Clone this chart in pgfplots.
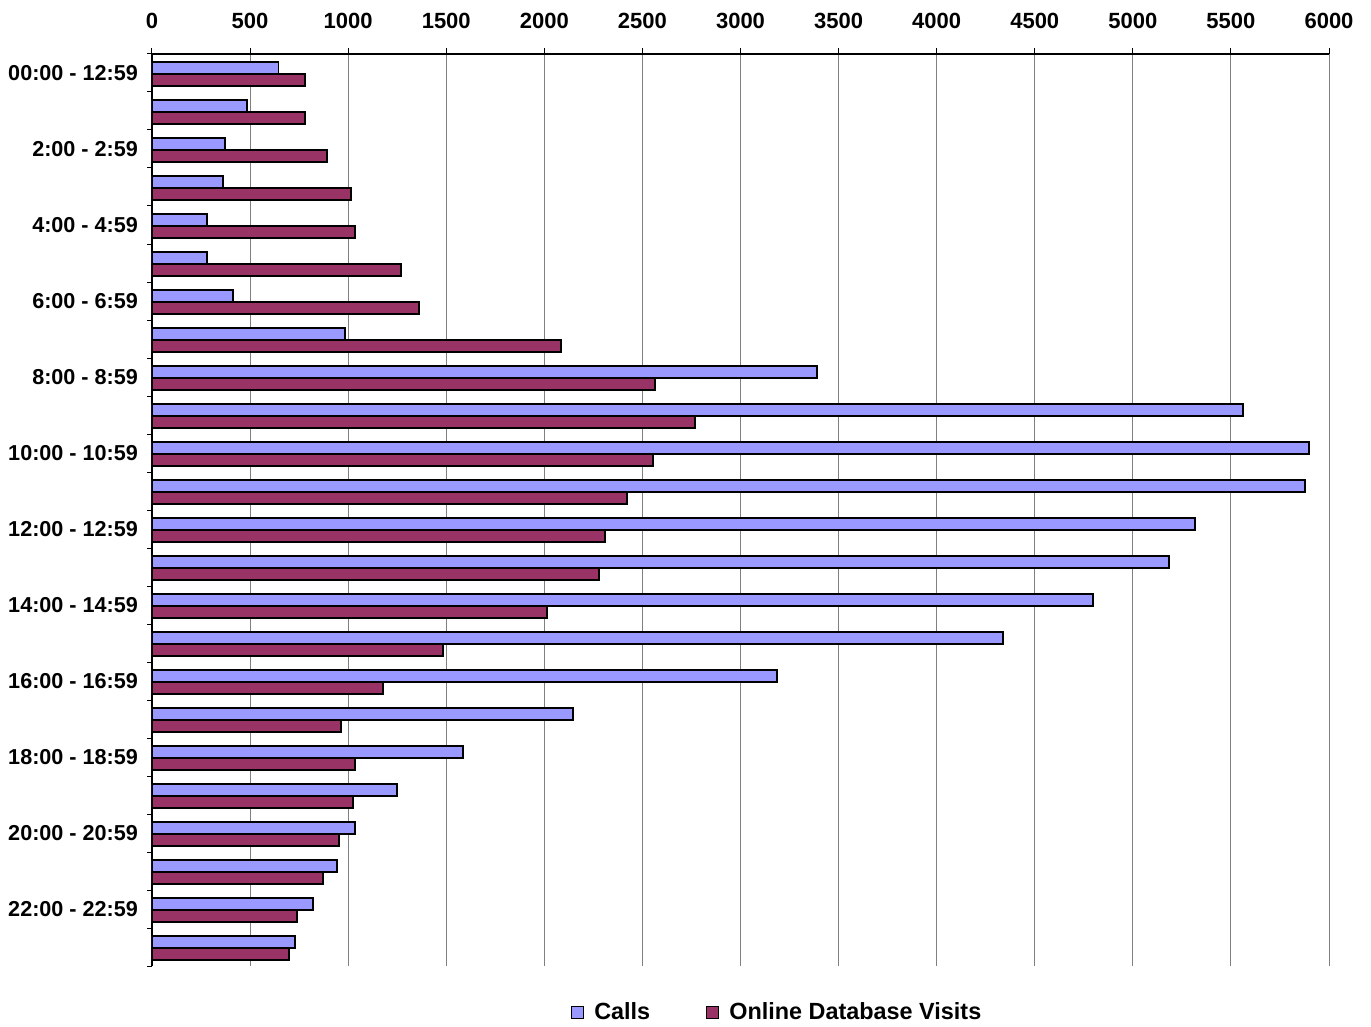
\documentclass[border=0pt]{standalone}
\usepackage{pgfplots}
\pgfplotsset{compat=1.18}
\usepackage{pgfplotstable}
\usepackage{fontspec}
\setmainfont{Liberation Sans}
\definecolor{callc}{HTML}{9999FF}
\definecolor{webc}{HTML}{993366}

% hour of day, phone calls, online database visits
\pgfplotstableread{
hr calls web
0  645  780
1  484  780
2  372  892
3  362  1015
4  280  1035
5  280  1269
6  413  1361
7  984  2085
8  3390 2564
9  5562 2768
10 5898 2554
11 5878 2422
12 5317 2309
13 5185 2279
14 4797 2014
15 4338 1484
16 3186 1178
17 2146 964
18 1585 1035
19 1249 1025
20 1035 953
21 943  872
22 821  739
23 729  698
}\hourly

\begin{document}
\begin{tikzpicture}
\begin{axis}[
  scale only axis, width=588.5pt, height=456pt,
  xbar=0pt, bar width=6pt,
  y dir=reverse,
  xmin=0, xmax=6000, ymin=-0.5, ymax=23.5,
  axis x line*=top, axis y line*=left,
  axis line style={black, line width=0.6pt},
  xtick={0,500,...,6000},
  /pgf/number format/1000 sep={},
  /pgf/number format/assume math mode=true,
  xticklabel style={font=\bfseries\fontsize{11}{13}\selectfont, yshift=6pt},
  xmajorgrids,
  major grid style={draw=gray, line width=0.5pt},
  ytick={0,2,...,22},
  yticklabels={00:00 - 12:59, 2:00 - 2:59, 4:00 - 4:59, 6:00 - 6:59,
    8:00 - 8:59, 10:00 - 10:59, 12:00 - 12:59, 14:00 - 14:59,
    16:00 - 16:59, 18:00 - 18:59, 20:00 - 20:59, 22:00 - 22:59},
  yticklabel style={font=\bfseries\fontsize{10.8}{13}\selectfont, xshift=-0.5pt},
  minor ytick={-0.5,0.5,...,23.5},
  tick align=outside,
  major tick length=3pt,
  minor tick length=2.5pt,
  major y tick style={draw=none},
  tick style={black, line width=0.5pt},
  legend style={at={(axis description cs:0.532,-0.0515)}, anchor=center,
    draw=none, legend columns=2,
    font=\bfseries\fontsize{11.7}{14}\selectfont,
    /tikz/every even column/.append style={column sep=26pt}},
  sq/.style={legend image code/.code={
    \draw[##1, draw=black, line width=0.5pt] (0pt,-3pt) rectangle (6pt,3pt);
    \path (9pt,0pt);}},
]
\addplot[fill=callc, draw=black, line width=0.7pt, bar shift=2.5pt, sq] table[x=calls, y=hr] {\hourly};
\addlegendentry{Calls}
\addplot[fill=webc, draw=black, line width=0.7pt, bar shift=-3.5pt, sq] table[x=web, y=hr] {\hourly};
\addlegendentry{Online Database Visits}
\coordinate (tl) at (axis cs:0,-0.5);
\coordinate (br) at (axis cs:6000,23.5);
\end{axis}
\pgfresetboundingbox
\path ([xshift=-76pt,yshift=27pt]tl) rectangle ([xshift=21pt,yshift=-30pt]br);
\end{tikzpicture}
\end{document}
